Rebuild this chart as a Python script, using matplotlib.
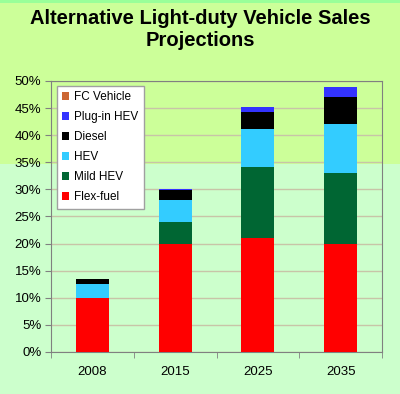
import numpy as np
import matplotlib.pyplot as plt
from matplotlib.patches import Rectangle

plt.rcParams['font.family'] = ['Liberation Sans', 'DejaVu Sans']

# data (percent of sales)
years = ['2008', '2015', '2025', '2035']
flex_fuel = [10.0, 20.0, 21.0, 20.0]
mild_hev = [0.0, 3.9, 13.2, 13.0]
hev = [2.6, 4.1, 7.0, 9.0]
diesel = [0.8, 1.9, 3.0, 5.0]
plugin_hev = [0.1, 0.1, 1.0, 1.8]
fc_vehicle = [0.0, 0.0, 0.0, 0.0]

series = [
    ('Flex-fuel', flex_fuel, '#ff0000'),
    ('Mild HEV', mild_hev, '#006633'),
    ('HEV', hev, '#33ccff'),
    ('Diesel', diesel, '#000000'),
    ('Plug-in HEV', plugin_hev, '#3333ff'),
    ('FC Vehicle', fc_vehicle, '#cc6633'),
]

fig = plt.figure(figsize=(4.0, 3.94), dpi=100, facecolor='#ccffcc')
# background bands
fig.patches.append(Rectangle((0, 0.584), 1, 0.416, transform=fig.transFigure,
                             facecolor='#ccff99', edgecolor='none', zorder=-10))
fig.patches.append(Rectangle((0, 0.992), 1, 0.008, transform=fig.transFigure,
                             facecolor='#99ff99', edgecolor='none', zorder=-9))

ax = fig.add_axes([0.1275, 0.1066, 0.8275, 0.688])
ax.patch.set_alpha(0)

x = np.arange(len(years))
bottom = np.zeros(len(years))
handles = []
for name, vals, col in series:
    b = ax.bar(x, vals, width=0.4, bottom=bottom, color=col, label=name, zorder=3)
    handles.append(b)
    bottom += np.array(vals)

ax.set_xlim(-0.5, 3.5)
ax.set_ylim(0, 50)
ax.set_yticks(np.arange(0, 51, 5))
ax.set_yticklabels([f'{v}%' for v in range(0, 51, 5)], fontsize=9.5)
ax.set_xticks(x)
ax.set_xticklabels(years, fontsize=9.5)
ax.set_xticks(np.arange(-0.5, 3.6, 1), minor=True)
ax.tick_params(axis='x', which='major', length=0, pad=10)
ax.tick_params(axis='x', which='minor', length=4, color='#808080')
ax.tick_params(axis='y', length=4, color='#808080', pad=3)
ax.grid(axis='y', color='#c8c4a8', linewidth=1, zorder=0)
for s in ax.spines.values():
    s.set_color('#808080')

leg = ax.legend(handles[::-1], [s[0] for s in series][::-1], loc='upper left',
                bbox_to_anchor=(0.018, 0.982), borderaxespad=0, fontsize=8.5,
                frameon=True, fancybox=False, edgecolor='#a0a0a0', framealpha=1,
                handlelength=0.6, handleheight=0.6, handletextpad=0.4,
                labelspacing=0.68, borderpad=0.45)
leg.get_frame().set_linewidth(1)

fig.text(0.5, 0.977, 'Alternative Light-duty Vehicle Sales\nProjections',
         ha='center', va='top', fontsize=14.5, fontweight='bold', linespacing=1.2)

fig.savefig('out.png', dpi=100, facecolor=fig.get_facecolor())
